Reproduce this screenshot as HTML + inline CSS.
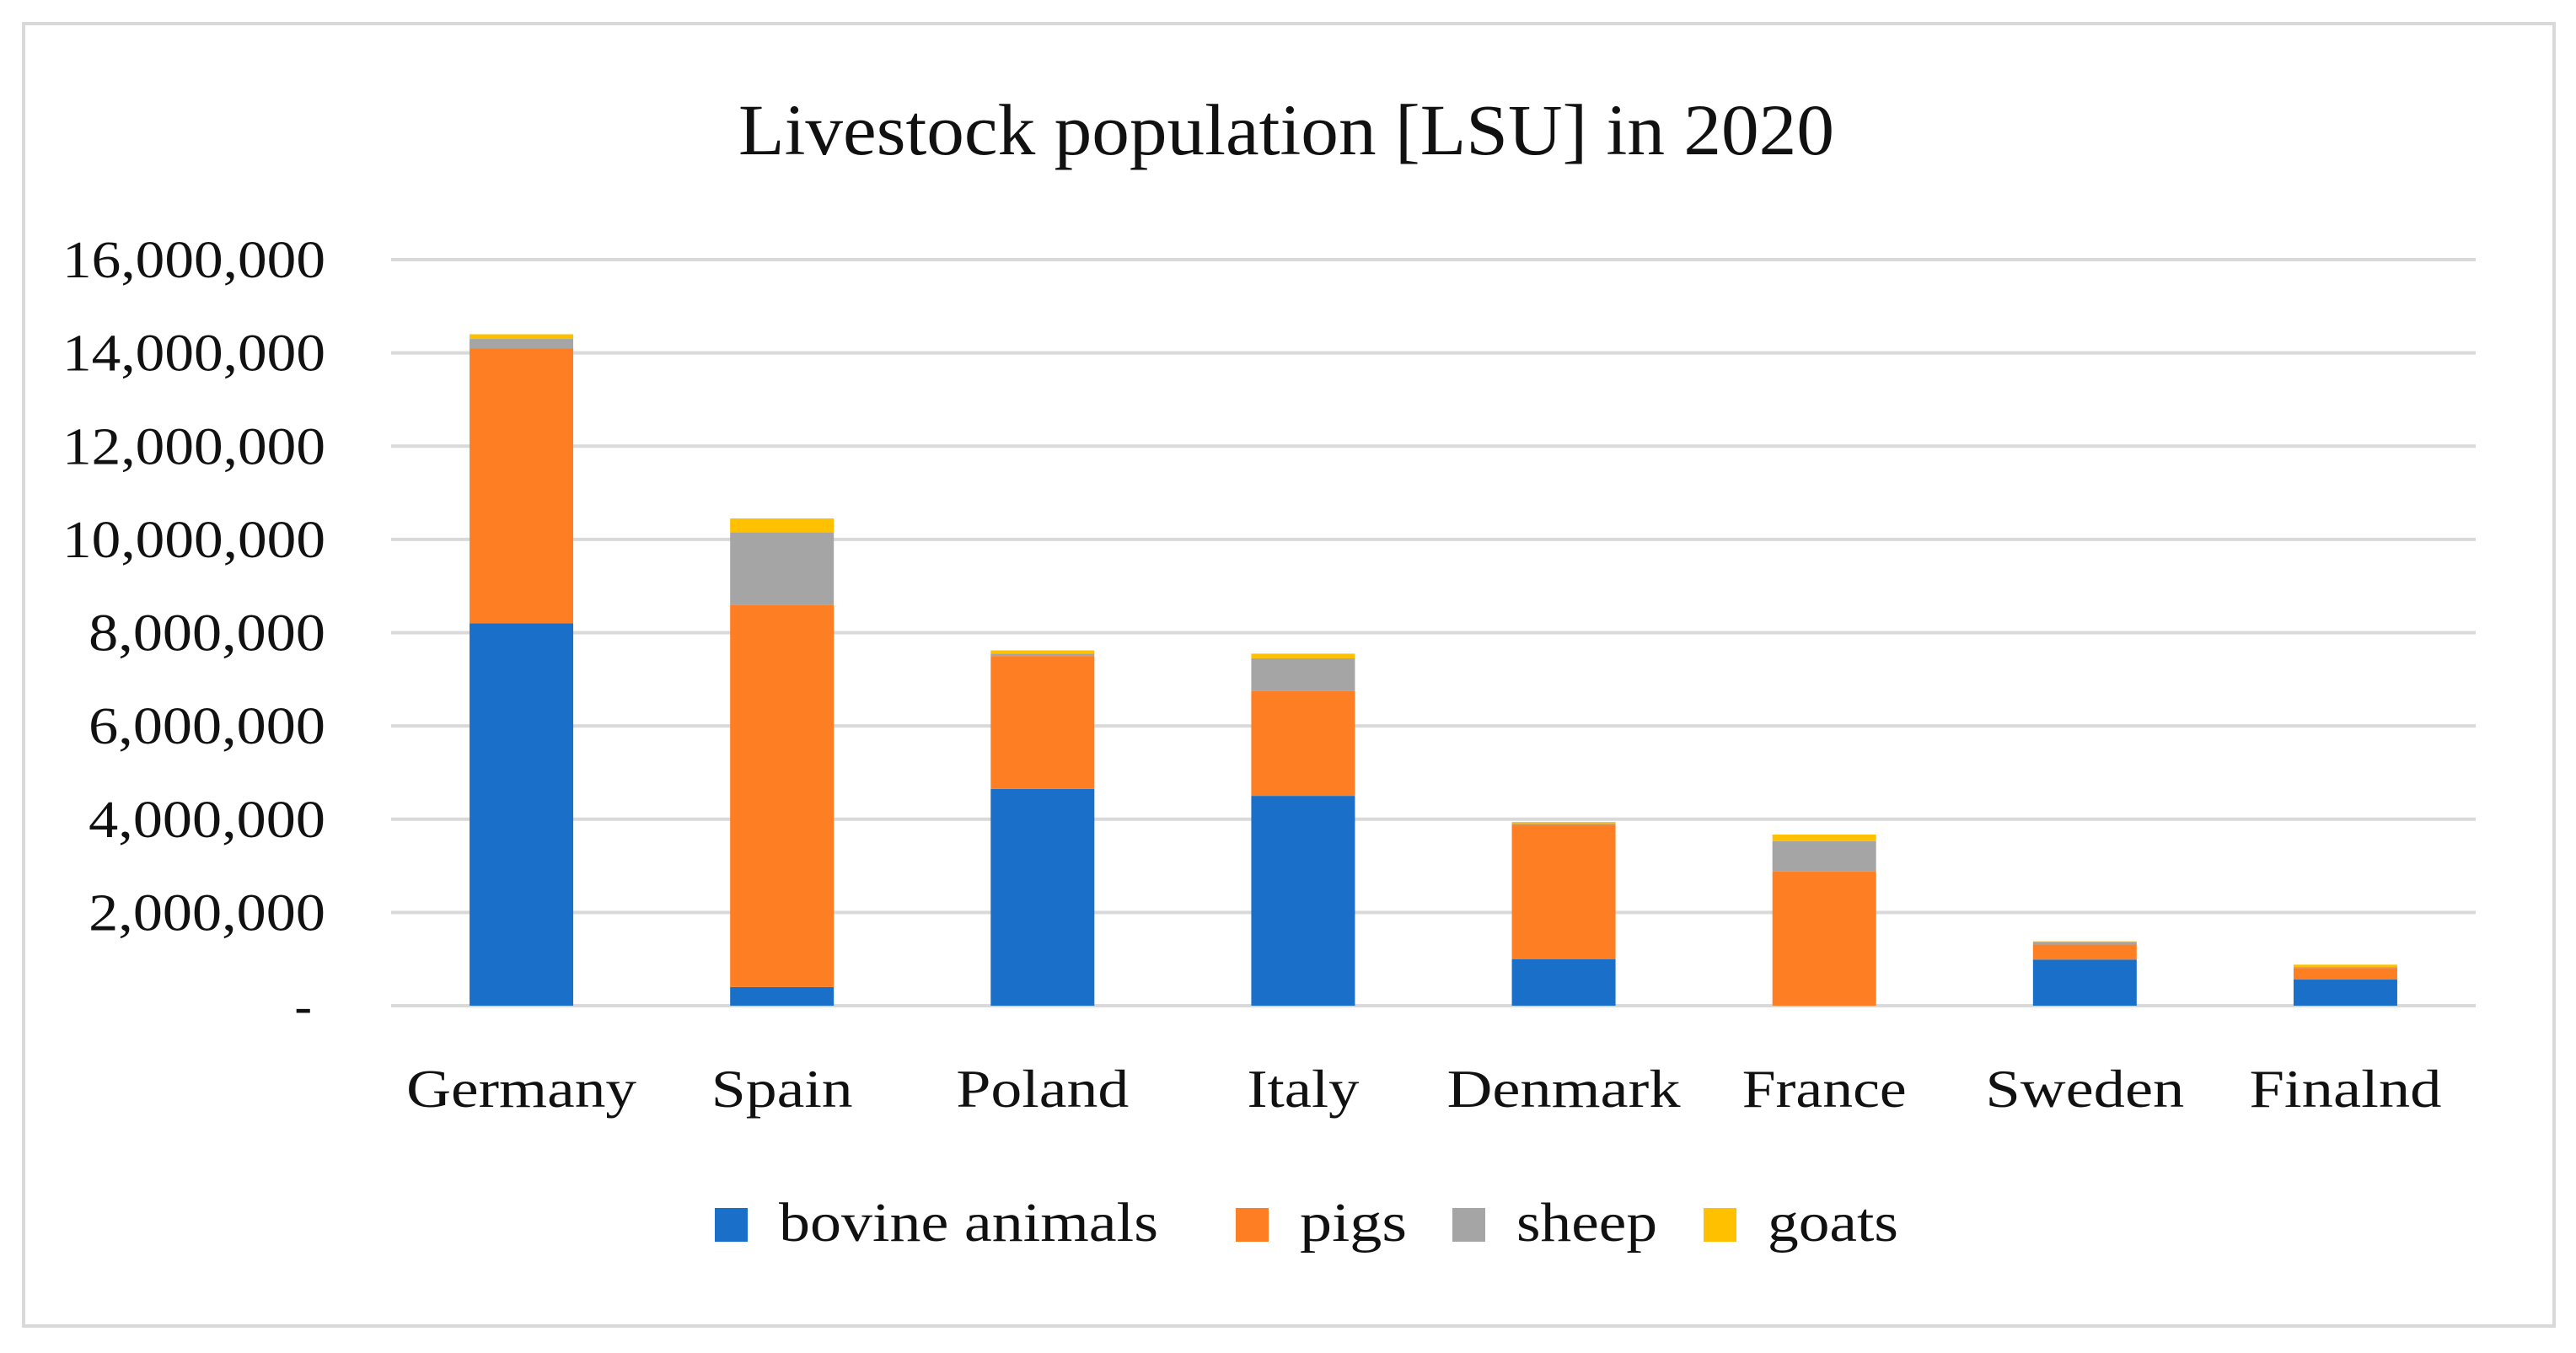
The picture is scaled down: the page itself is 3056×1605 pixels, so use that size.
<!DOCTYPE html>
<html><head><meta charset="utf-8"><style>
html,body{margin:0;padding:0;background:#fff;}
svg{display:block;font-family:"Liberation Serif","DejaVu Serif",serif;}
</style></head><body>
<svg id="chart" width="3056" height="1605" viewBox="0 0 3056 1605" xmlns="http://www.w3.org/2000/svg">
<rect x="28" y="28" width="3002" height="1545" fill="#fff" stroke="#d9d9d9" stroke-width="4"/>
<text x="1526" y="183" text-anchor="middle" font-size="86" textLength="1300" lengthAdjust="spacingAndGlyphs" fill="#111">Livestock population [LSU] in 2020</text>
<g id="grid"></g>
<g id="ylab"></g>
<g id="bars"></g>
<g id="xlab"></g>
<g id="legend"></g>
</svg>
<script>
const categories = ["Germany","Spain","Poland","Italy","Denmark","France","Sweden","Finalnd"];
const bovine = [8200000,400000,4650000,4500000,1000000,0,990000,560000];
const pigs   = [5900000,8200000,2850000,2250000,2880000,2880000,320000,250000];
const sheep  = [200000,1550000,50000,700000,30000,650000,60000,20000];
const goats  = [100000,300000,70000,100000,30000,140000,10000,50000];
const yTicks = [0,2000000,4000000,6000000,8000000,10000000,12000000,14000000,16000000];
const yTickLabels = ["-","2,000,000","4,000,000","6,000,000","8,000,000","10,000,000","12,000,000","14,000,000","16,000,000"];
const seriesNames = ["bovine animals","pigs","sheep","goats"];

const NS="http://www.w3.org/2000/svg";
const colors=["#1a70c8","#fd7e23","#a5a5a5","#ffc000"];
const X0=464,X1=2937,Y0=1193,Y1=308,YMAX=16000000;
const band=(X1-X0)/categories.length, bw=123;
const xLabelLen=[273,168,205,133,277,195,236,228];
function y(v){return Y0-(v/YMAX)*(Y0-Y1);}
function xc(i){return X0+band*(i+0.5);}
function mk(tag,attrs,parent){const e=document.createElementNS(NS,tag);for(const k in attrs)e.setAttribute(k,attrs[k]);parent.appendChild(e);return e;}
const grid=document.getElementById('grid'),ylab=document.getElementById('ylab'),bars=document.getElementById('bars'),xlab=document.getElementById('xlab'),legend=document.getElementById('legend');
yTicks.forEach((t,i)=>{
  const l=mk('line',{x1:X0,x2:X1,y1:y(t),y2:y(t),stroke:'#d9d9d9','stroke-width':4},grid);
  
  
  const lab=yTickLabels[i];
  const attrs={x:i===0?370:386,y:y(t)+21,'text-anchor':'end','font-size':62,fill:'#111'};
  if(lab.length>1){attrs.textLength=lab.length*31.2;attrs.lengthAdjust='spacingAndGlyphs';}
  const tx=mk('text',attrs,ylab);
  
  
  tx.textContent=lab;
});
const series=[bovine,pigs,sheep,goats];
categories.forEach((c,i)=>{
  let base=0;
  series.forEach((s,k)=>{
    const v=s[i]; if(v<=0) return;
    const r=mk('rect',{x:xc(i)-bw/2,y:y(base+v),width:bw,height:y(base)-y(base+v),fill:colors[k]},bars);
    
    
    base+=v;
  });
  const t=mk('text',{x:xc(i),y:1313,'text-anchor':'middle','font-size':64,fill:'#111',textLength:xLabelLen[i],lengthAdjust:'spacingAndGlyphs'},xlab);
  
  
  t.textContent=c;
});
const lx=[848,1466,1723,2021], lw=[450,127,167,155];
seriesNames.forEach((n,k)=>{
  const g=mk('g',{},legend);
  
  
  mk('rect',{x:lx[k],y:1433,width:39,height:40,fill:colors[k]},g);
  const t=mk('text',{x:lx[k]+76,y:1472,'font-size':66,fill:'#111',textLength:lw[k],lengthAdjust:'spacingAndGlyphs'},g);
  t.textContent=n;
});
</script>
</body></html>
